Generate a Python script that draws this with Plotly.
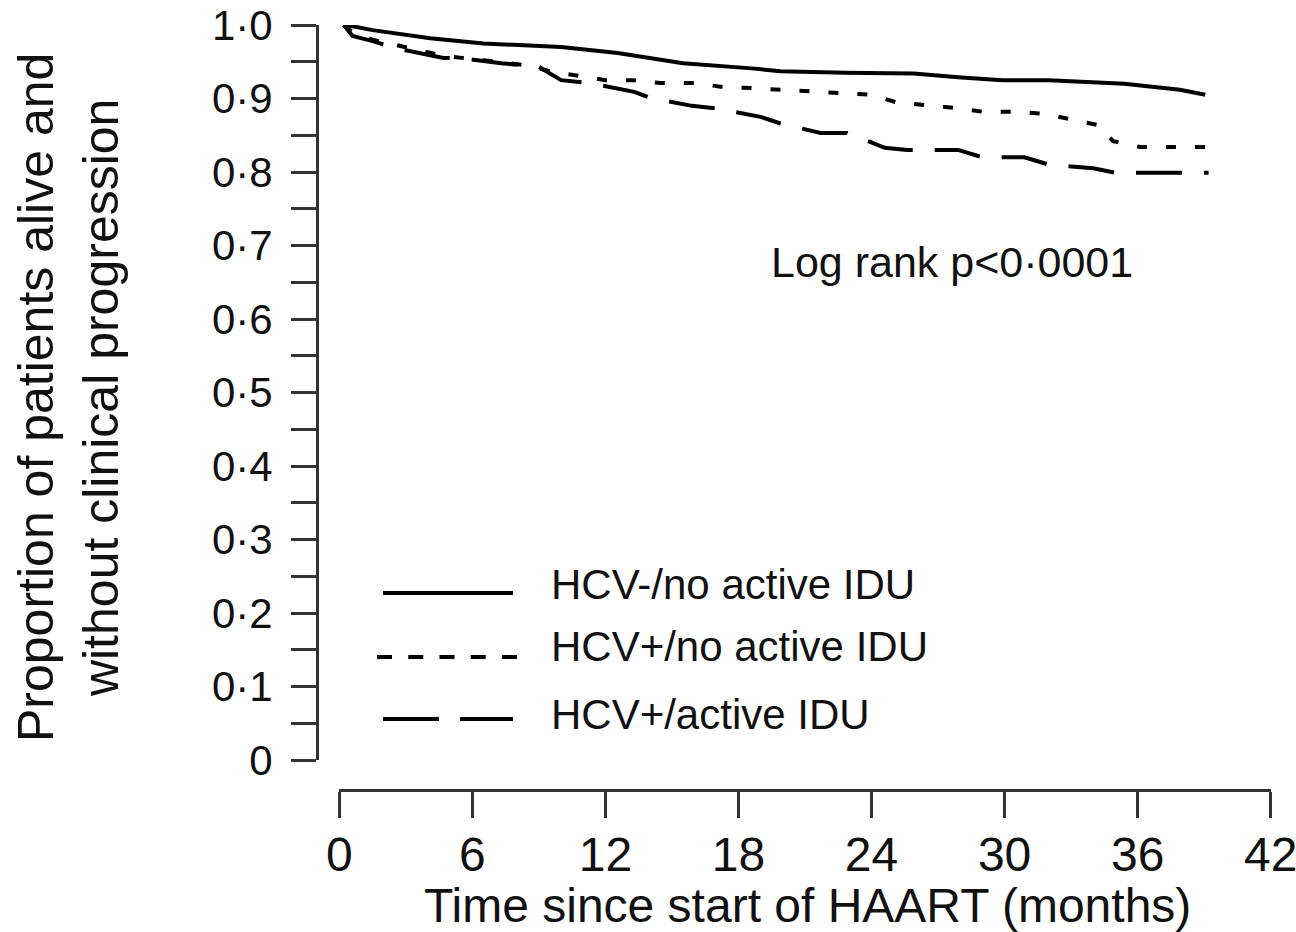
import plotly.graph_objects as go

W, H = 1296, 932
FONT = "Arial, 'Liberation Sans', sans-serif"
INK = "#111111"
AXIS = "#333333"

# Kaplan-Meier estimates: months since start of HAART vs proportion event-free
months_neg_noidu = [0.2, 0.3, 1.5, 4.1, 6.5, 10.0, 12.55, 15.5, 18.6, 19.9, 22.8,
                    25.9, 27.9, 29.9, 32.0, 35.4, 37.9, 39.05]
surv_neg_noidu = [1.0, 1.0, 0.993, 0.982, 0.975, 0.970, 0.962, 0.948, 0.941, 0.937,
                  0.935, 0.934, 0.929, 0.925, 0.925, 0.920, 0.912, 0.905]

months_pos_noidu = [0.2, 0.6, 1.5, 2.6, 4.7, 6.5, 8.5, 9.5, 11.0, 12.0, 13.2, 14.5,
                    16.0, 17.2, 18.7, 19.9, 21.3, 22.6, 24.0, 25.1, 26.5, 27.8, 29.0,
                    30.5, 31.8, 33.0, 34.2, 34.9, 36.1, 39.1]
surv_pos_noidu = [1.0, 0.99, 0.98, 0.972, 0.958, 0.952, 0.945, 0.937, 0.930, 0.925,
                  0.925, 0.921, 0.921, 0.916, 0.914, 0.912, 0.909, 0.907, 0.905, 0.895,
                  0.891, 0.887, 0.882, 0.882, 0.879, 0.871, 0.864, 0.842, 0.834, 0.834]

months_pos_idu = [0.2, 0.6, 1.5, 2.6, 4.7, 5.5, 7.3, 9.0, 10.0, 11.3, 13.3, 14.0, 15.9,
                  17.1, 19.0, 19.9, 21.7, 22.9, 24.6, 25.6, 27.9, 29.0, 30.9, 32.0,
                  34.0, 35.0, 39.2]
surv_pos_idu = [1.0, 0.985, 0.978, 0.968, 0.955, 0.955, 0.948, 0.943, 0.925, 0.921,
                0.909, 0.901, 0.890, 0.886, 0.875, 0.866, 0.853, 0.853, 0.833, 0.830,
                0.830, 0.820, 0.820, 0.810, 0.805, 0.799, 0.799]

group_labels = ["HCV-/no active IDU", "HCV+/no active IDU", "HCV+/active IDU"]
group_dash = ["solid", "10px,19px", "46px,22px"]
key_dash = ["solid", "15px,16.25px", "56px,21px"]
key_span = [(383, 513), (377, 517), (383, 513)]

x_ticks = [0, 6, 12, 18, 24, 30, 36, 42]
y_ticks = [i / 20 for i in range(21)]
y_ticktext = ["0" if i == 0 else (f"{i // 20}\u00b7{(i % 20) // 2}" if i % 2 == 0 else "")
              for i in range(21)]

pvalue_text = "Log rank p&lt;0\u00b70001"
x_title = "Time since start of HAART (months)"
y_title = "Proportion of patients alive and<br>without clinical progression"

fig = go.Figure()
series = [(months_neg_noidu, surv_neg_noidu),
          (months_pos_noidu, surv_pos_noidu),
          (months_pos_idu, surv_pos_idu)]
for (mx, sy), name, dash in zip(series, group_labels, group_dash):
    fig.add_trace(go.Scatter(x=mx, y=sy, mode="lines", name=name, showlegend=False,
                             line=dict(color="#000000", width=4, dash=dash)))


def px_x(p):
    return p / W


def px_y(p):
    return 1 - p / H


fig.update_layout(
    template="none",
    width=W, height=H, autosize=False,
    margin=dict(l=0, r=0, t=0, b=0, pad=0),
    paper_bgcolor="white", plot_bgcolor="white",
    font=dict(family=FONT, color=INK),
    xaxis=dict(
        domain=[px_x(339.3), px_x(1270.7)], range=[0, 42],
        anchor="free", position=px_y(790), automargin=False,
        showgrid=False, zeroline=False,
        showline=True, linecolor=AXIS, linewidth=3,
        ticks="outside", ticklen=26, tickwidth=3, tickcolor=AXIS,
        tickvals=x_ticks, ticktext=[str(v) for v in x_ticks],
        tickfont=dict(size=48, color=INK), ticklabeloverflow="allow",
        ticklabelstandoff=-5,
    ),
    yaxis=dict(
        domain=[px_y(760), px_y(25)], range=[0, 1],
        anchor="free", position=px_x(317), automargin=False,
        showgrid=False, zeroline=False,
        showline=True, linecolor=AXIS, linewidth=3,
        ticks="outside", ticklen=25, tickwidth=3, tickcolor=AXIS,
        tickvals=y_ticks, ticktext=y_ticktext,
        tickfont=dict(size=42, color=INK), ticklabeloverflow="allow",
        ticklabelstandoff=10,
    ),
)

# key drawn below the curves: sample line plus label for each group
key_rows = [593, 657, 719]
key_text_rows = [584, 646, 714]
for row, trow, name, dash, (k0, k1) in zip(key_rows, key_text_rows, group_labels,
                                           key_dash, key_span):
    fig.add_shape(type="line", xref="paper", yref="paper",
                  x0=px_x(k0), x1=px_x(k1), y0=px_y(row), y1=px_y(row),
                  line=dict(color="#000000", width=4, dash=dash))
    fig.add_annotation(x=px_x(549), y=px_y(trow), xref="paper", yref="paper",
                       text=name, showarrow=False, xanchor="left", yanchor="middle",
                       font=dict(size=42, color=INK))

fig.add_annotation(x=px_x(952), y=px_y(262), xref="paper", yref="paper",
                   text=pvalue_text, showarrow=False, xanchor="center", yanchor="middle",
                   font=dict(size=43, color=INK))

fig.add_annotation(x=px_x(807), y=px_y(905), xref="paper", yref="paper",
                   text=x_title, showarrow=False, xanchor="center", yanchor="middle",
                   font=dict(size=48, color=INK))

fig.add_annotation(x=px_x(68), y=px_y(398), xref="paper", yref="paper",
                   text=y_title, showarrow=False, textangle=-90,
                   xanchor="center", yanchor="middle",
                   font=dict(size=50, color=INK))

fig.write_html("out.html")
